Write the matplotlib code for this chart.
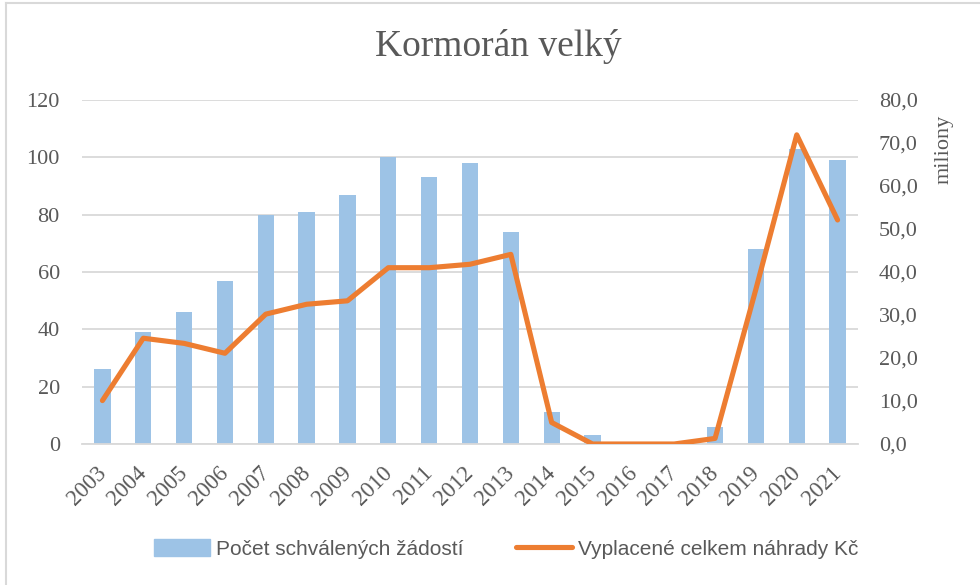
import matplotlib.pyplot as plt
import matplotlib.transforms as mtransforms
import numpy as np
from matplotlib.lines import Line2D

years = ['2003', '2004', '2005', '2006', '2007', '2008', '2009', '2010', '2011', '2012',
         '2013', '2014', '2015', '2016', '2017', '2018', '2019', '2020', '2021']
zadosti = [26, 39, 46, 57, 80, 81, 87, 100, 93, 98, 74, 11, 3, 0, 0, 6, 68, 103, 99]
nahrady = [10.1, 24.6, 23.4, 21.1, 30.2, 32.5, 33.3, 41.0, 41.0, 41.8, 44.1, 5.0,
           0.0, 0.0, 0.0, 1.3, 36.0, 71.9, 52.1]

left_ticks = [0, 20, 40, 60, 80, 100, 120]
right_ticks = [0, 10, 20, 30, 40, 50, 60, 70, 80]

bar_col = '#9DC3E6'
line_col = '#ED7D31'
grid_col = '#D9D9D9'
txt_col = '#595959'
serif = ['Liberation Serif', 'DejaVu Serif']
sans = ['Liberation Sans Narrow', 'Liberation Sans', 'DejaVu Sans']

W, H = 980, 585
fig = plt.figure(figsize=(W / 100, H / 100), dpi=100)

# plot area in pixels: x 82..858, y 100..444
ax = fig.add_axes([82 / W, 1 - 444 / H, 776 / W, 344 / H])
ax2 = ax.twinx()

x = np.arange(len(years))
ax.bar(x, zadosti, width=0.4, color=bar_col, zorder=2)
ax2.plot(x, nahrady, color=line_col, lw=3.7, solid_capstyle='round',
         solid_joinstyle='round', zorder=3)

ax.set_xlim(-0.5, len(years) - 0.5)
ax.set_ylim(0, 120)
ax2.set_ylim(0, 80)
ax.set_yticks(left_ticks)
ax2.set_yticks(right_ticks)
ax2.set_yticklabels([f'{v:.1f}'.replace('.', ',') for v in right_ticks])
ax.grid(axis='y', color=grid_col, lw=1.3, zorder=0)
ax.set_axisbelow(True)

for a in (ax, ax2):
    for s in a.spines.values():
        s.set_visible(False)
    a.tick_params(length=0, colors=txt_col, labelsize=16)
    for lab in a.get_yticklabels():
        lab.set_family(serif)
ax.spines['bottom'].set_visible(True)
ax.spines['bottom'].set_color(grid_col)
ax.spines['bottom'].set_linewidth(1.3)
ax.tick_params(axis='y', pad=16)
ax2.tick_params(axis='y', pad=15)

ax.set_xticks(x)
ax.set_xticklabels(years, rotation=45, ha='right', va='top',
                   rotation_mode='anchor', family=serif, fontsize=16.5)
ax.tick_params(axis='x', pad=8)
# nudge the slanted year labels a bit left and down, like Excel puts them
shift = mtransforms.ScaledTranslation(-7 / 100, -7 / 100, fig.dpi_scale_trans)
for lab in ax.get_xticklabels():
    lab.set_transform(lab.get_transform() + shift)

ax2.patch.set_visible(False)
ax.set_zorder(1)
ax2.set_zorder(2)

fig.text(498 / W, 1 - 47 / H, 'Kormorán velký', ha='center', va='center',
         fontsize=27, color=txt_col, family=serif)
fig.text(944 / W, 1 - 149 / H, 'miliony', ha='center', va='center', rotation=90,
         fontsize=16, color=txt_col, family=serif)

handles = [plt.Rectangle((0, 0), 1, 1, color=bar_col),
           Line2D([0], [0], color=line_col, lw=3.7, solid_capstyle='round')]
labels = ['Počet schválených žádostí', 'Vyplacené celkem náhrady Kč']
fig.legend(handles, labels, loc='center', bbox_to_anchor=(506 / W, 1 - 549 / H),
           ncol=2, frameon=False, prop={'family': sans, 'size': 15},
           labelcolor=txt_col, handlelength=2.7, handleheight=0.9,
           handletextpad=0.3, columnspacing=2.5)

# chart frame
fig.add_artist(Line2D([6 / W, 6 / W], [0, 1 - 3 / H], color=grid_col, lw=1.5))
fig.add_artist(Line2D([6 / W, 1], [1 - 3 / H, 1 - 3 / H], color=grid_col, lw=1.5))

fig.savefig('out.png', dpi=100)
